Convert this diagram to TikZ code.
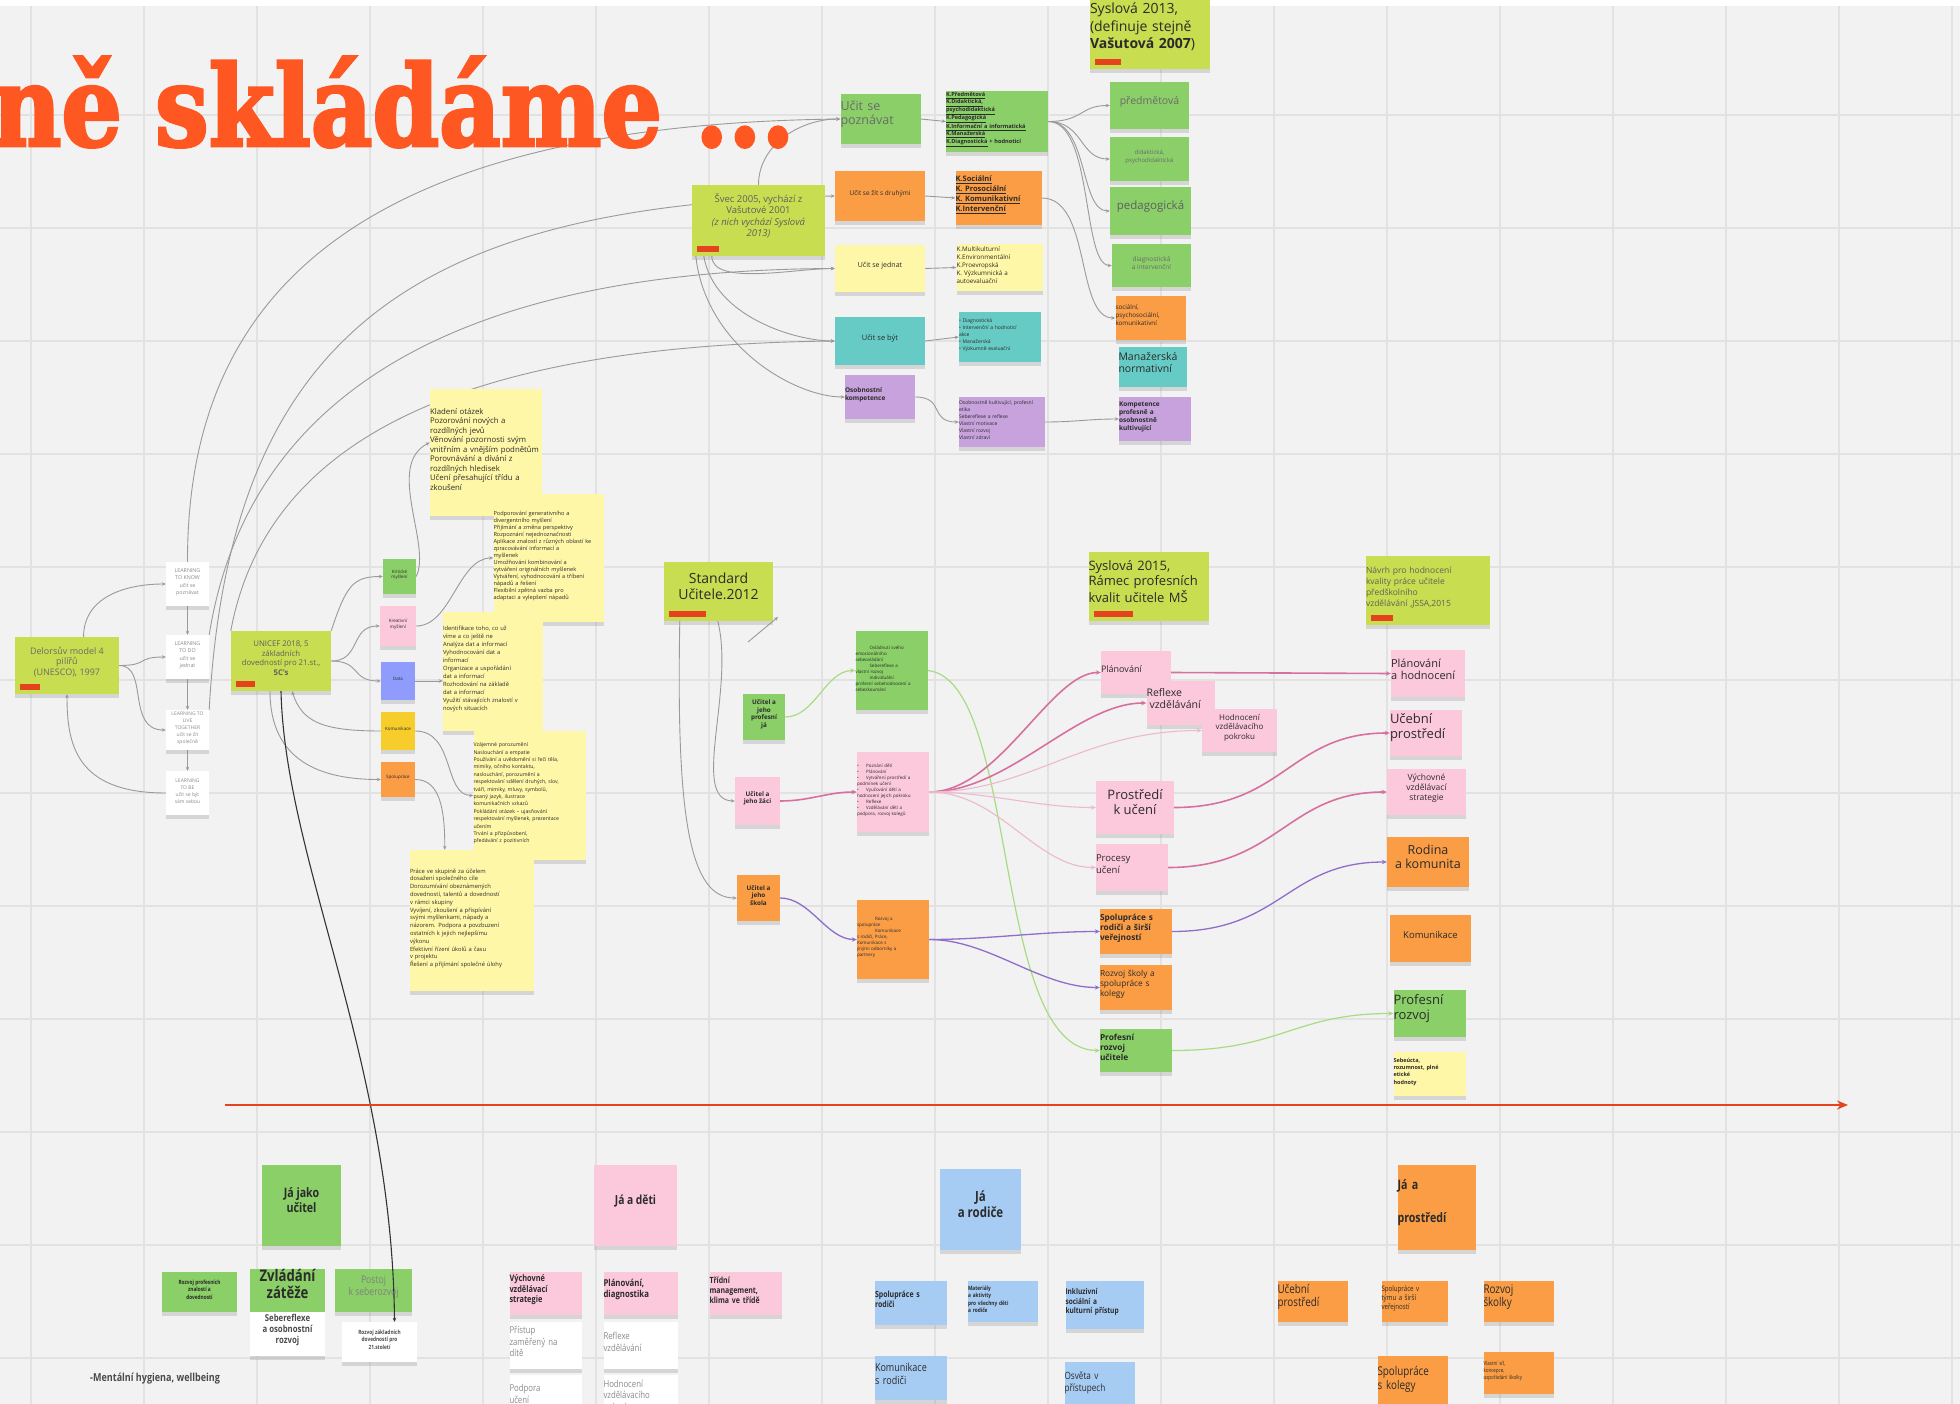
\documentclass[tikz,border=0pt]{standalone}
\usepackage{fontspec}
\setmainfont{Open Sans}
\newfontfamily\condfont{Open Sans}[FakeStretch=0.82]
\newfontfamily\titlefont{DejaVu Serif}[FakeStretch=0.85, BoldFeatures={FakeBold=2.5}]
\usetikzlibrary{fit,shadows,arrows.meta,backgrounds}
\definecolor{boardbg}{HTML}{F2F2F2}
\definecolor{gridline}{HTML}{E2E2E2}
\definecolor{limec}{HTML}{C8DD4F}
\definecolor{greenc}{HTML}{8ACF68}
\definecolor{orangec}{HTML}{FB9D45}
\definecolor{pinkc}{HTML}{FCC8DB}
\definecolor{tealc}{HTML}{66CBC4}
\definecolor{purplec}{HTML}{C8A2DD}
\definecolor{yellowc}{HTML}{FFF7A8}
\definecolor{bluec}{HTML}{A7CCF4}
\definecolor{violetc}{HTML}{8F9CFB}
\definecolor{goldc}{HTML}{F6CD2A}
\definecolor{tagred}{HTML}{E5431D}
\definecolor{titlered}{HTML}{FF5722}
\definecolor{inkc}{HTML}{2B2B2B}
\definecolor{greyink}{HTML}{8A8A8A}
\definecolor{linegray}{HTML}{9A9A9A}
\definecolor{pinkline}{HTML}{D8709F}
\definecolor{softpink}{HTML}{EDB9CD}
\definecolor{purpline}{HTML}{8E6DCB}
\definecolor{greenline}{HTML}{A9DB82}
\newcommand{\fs}[2]{\fontsize{#1}{#2}\selectfont}
\begin{document}
\begin{tikzpicture}[x=1pt, y=-1pt,
	note/.style={inner sep=0pt, text=inkc, align=center, drop shadow={opacity=0.25, shadow xshift=0pt, shadow yshift=-4pt}},
	lime/.style={note, fill=limec, path picture={\fill[tagred] ([xshift=5pt,yshift=4pt]path picture bounding box.south west) rectangle ++(#1,6pt);}},
	lime/.default=22pt,
	gnote/.style={note, fill=greenc},
	onote/.style={note, fill=orangec},
	pnote/.style={note, fill=pinkc},
	tnote/.style={note, fill=tealc},
	vnote/.style={note, fill=purplec},
	ynote/.style={note, fill=yellowc},
	bnote/.style={note, fill=bluec},
	wnote/.style={note, fill=white, text=greyink},
	conn/.style={draw=linegray, line width=0.9pt, -{Stealth[length=4pt, width=3.5pt]}},
	pconn/.style={draw=pinkline, line width=1.6pt, -{Stealth[length=5pt, width=4.5pt]}},
	spconn/.style={pconn, draw=softpink, line width=1.1pt},
	vconn/.style={pconn, draw=purpline, line width=1.3pt},
	gconn/.style={pconn, draw=greenline, line width=1.2pt},
	blackconn/.style={draw=black!80, line width=1.1pt, -{Stealth[length=4pt, width=3.5pt]}},
	timeline/.style={draw=tagred, line width=2.4pt, -{Stealth[length=11pt, width=9pt]}}]
	\useasboundingbox (0,0) rectangle (1960,1404);
	\clip (0,0) rectangle (1960,1404);
	%
	%title
	\node[anchor=base west, inner sep=0pt, text=titlered, font=\titlefont\bfseries\fs{112}{112}] (title) at (-8,146) {ně skládáme ...};
	%
	%top: Svec 2005 and Syslova 2013
	\node[lime=26pt, fit={(1085,-4) (1215,69)}, text width=120pt, align=left, font=\fs{14}{17.5}] (syslova13) {Syslová 2013,\\(definuje stejně\\\textbf{Vašutová 2007})};
	\node[lime, fit={(692,185) (825,256)}, font=\fs{9.5}{11.5}, text=inkc!75] (svec) {Švec 2005, vychází z\\Vašutové 2001\\\textit{(z nich vychází Syslová}\\\textit{2013)}};
	\node[gnote, fit={(836,94) (925,144)}, text width=80pt, align=left, font=\fs{12.5}{14.5}, text=inkc!70] (poznavat) {Učit se\\poznávat};
	\node[onote, fit={(835,171) (925,221)}, font=\fs{6.5}{8}] (zit) {Učit se žít s druhými};
	\node[ynote, fit={(835,245) (925,292)}, font=\fs{7}{8}] (jednat) {Učit se jednat};
	\node[tnote, fit={(835,317) (925,365)}, font=\fs{7.5}{9}] (byt) {Učit se být};
	\node[vnote, fit={(841,375) (919,419)}, text width=70pt, align=left, font=\bfseries\fs{6.5}{8}] (osob) {Osobnostní\\kompetence};
	%lists
	\node[gnote, fit={(942,91) (1052,152)}, text width=102pt, align=left, font=\bfseries\fs{5.6}{7.4}] (kpozn) {\underline{K.Předmětová}\\\underline{K.Didaktická,}\\\underline{psychodidaktická}\\\underline{K.Pedagogická}\\\underline{K.Informační a informatická}\\\underline{K.Manažerská}\\\underline{K.Diagnostická} + hodnoticí};
	\node[onote, fit={(952,171) (1045,225)}, text width=86pt, align=left, font=\bfseries\fs{7.5}{10}] (ksoc) {\underline{K.Sociální}\\\underline{K. Prosociální}\\\underline{K. Komunikativní}\\\underline{K.Intervenční}};
	\node[ynote, fit={(954,244) (1045,291)}, text width=86pt, align=left, font=\fs{6.3}{8.2}] (kjed) {K.Multikulturní\\K.Environmentální\\K.Proevropská\\K. Výzkumnická a\\autoevaluační};
	\node[tnote, fit={(956,312) (1044,362)}, text width=82pt, align=left, font=\fs{5}{7}] (kbyt) {• Diagnostická\\• Intervenční a hodnoticí\\akce\\• Manažerská\\• Výzkumně evaluační};
	\node[vnote, fit={(956,397) (1048,447)}, text width=86pt, align=left, font=\fs{5}{7}] (kosob) {Osobnostně kultivující, profesní\\etika\\Sebereflexe a reflexe\\Vlastní motivace\\Vlastní rozvoj\\Vlastní zdraví};
	%right column
	\node[gnote, fit={(1110,82) (1189,129)}, font=\fs{10.5}{12}, text=inkc!70] (predmet) {předmětová};
	\node[gnote, fit={(1110,137) (1189,181)}, font=\fs{6}{7.5}, text=inkc!70] (didakt) {didaktická,\\psychodidaktická};
	\node[gnote, fit={(1110,187) (1191,235)}, font=\fs{11.5}{13}, text=inkc!75] (pedag) {pedagogická};
	\node[gnote, fit={(1112,244) (1191,287)}, font=\fs{6.5}{8}, text=inkc!70] (diagn) {diagnostická\\a intervenční};
	\node[onote, fit={(1112,296) (1189,340)}, text width=70pt, align=left, font=\fs{6.3}{8}] (social) {sociální,\\psychosociální,\\komunikativní};
	\node[tnote, fit={(1116,347) (1189,387)}, text width=68pt, align=left, font=\fs{10.5}{12}] (manaz) {Manažerská\\normativní};
	\node[vnote, fit={(1116,397) (1194,441)}, text width=72pt, align=left, font=\bfseries\fs{6.5}{8}] (kultiv) {Kompetence\\profesně a\\osobnostně\\kultivující};
	%
	%left: Delors and UNICEF
	\node[lime=20pt, fit={(15,637) (119,694)}, font=\fs{9}{10.5}, text=inkc!70] (delors) {Delorsův model 4\\pilířů\\(UNESCO), 1997};
	\node[wnote, fit={(166,562) (209,606)}, font=\fs{5.3}{7.5}] (know) {LEARNING\\TO KNOW\\učit se\\poznávat};
	\node[wnote, fit={(166,635) (209,679)}, font=\fs{5.3}{7.5}] (ltd) {LEARNING\\TO DO\\učit se\\jednat};
	\node[wnote, fit={(166,710) (209,750)}, font=\fs{5}{6.8}] (live) {LEARNING TO\\LIVE\\TOGETHER\\učit se žít\\společně};
	\node[wnote, fit={(166,771) (209,815)}, font=\fs{5}{6.8}] (be) {LEARNING\\TO BE\\učit se být\\sám sebou};
	\node[lime=19pt, fit={(231,631) (331,691)}, font=\fs{7.8}{9.5}, text=inkc!75] (unicef) {UNICEF 2018, 5\\základních\\dovedností pro 21.st.,\\\textbf{5C's}};
	\node[gnote, fit={(383,559) (416,594)}, font=\fs{4.5}{5.5}] (sqgreen) {Kritické\\myšlení};
	\node[pnote, fit={(380,606) (416,646)}, font=\fs{4.5}{5.5}] (sqpink) {Kreativní\\myšlení};
	\node[note, fill=violetc, fit={(381,662) (415,700)}, font=\fs{4.5}{5.5}] (sqblue) {Data};
	\node[note, fill=goldc, fit={(381,712) (415,750)}, font=\fs{4.5}{5.5}] (sqgold) {Komunikace};
	\node[onote, fit={(381,762) (415,797)}, font=\fs{4.5}{5.5}] (sqorange) {Spolupráce};
	%yellow notes
	\node[ynote, fit={(422,389) (550,516)}, text width=112pt, align=left, font=\fs{7.8}{9.5}] (otazky) {Kladení otázek\\Pozorování nových a\\rozdílných jevů\\Věnování pozornosti svým\\vnitřním a vnějším podnětům\\Porovnávání a dívání z\\rozdílných hledisek\\Učení přesahující třídu a\\zkoušení};
	\node[ynote, fit={(485,494) (612,622)}, text width=110pt, align=left, font=\fs{5.6}{7}] (tvorivost) {Podporování generativního a\\divergentního myšlení\\Přijímání a změna perspektivy\\Rozpoznání nejednoznačnosti\\Aplikace znalostí z různých oblastí ke\\zpracovávání informací a\\myšlenek\\Umožňování kombinování a\\vytváření originálních myšlenek\\Vytváření, vyhodnocování a tříbení\\nápadů a řešení\\Flexibilní zpětná vazba pro\\adaptaci a vylepšení nápadů};
	\node[ynote, fit={(435,612) (551,731)}, text width=100pt, align=left, font=\fs{5.8}{8}] (info) {Identifikace toho, co už\\víme a co ještě ne\\Analýza dat a informací\\Vyhodnocování dat a\\informací\\Organizace a uspořádání\\dat a informací\\Rozhodování na základě\\dat a informací\\Využití stávajících znalostí v\\nových situacích};
	\node[ynote, fit={(465,731) (594,860)}, text width=112pt, align=left, font=\fs{5.2}{7.4}] (komun) {Vzájemné porozumění\\Naslouchání a empatie\\Používání a uvědomění si řeči těla,\\mimiky, očního kontaktu,\\naslouchání, porozumění a\\respektování sdělení druhých, slov,\\tváří, mimiky, mluvy, symbolů,\\psaný jazyk, ilustrace\\komunikačních vzkazů\\Pokládání otázek -- ujasňování\\respektování myšlenek, prezentace\\učením\\Trvání a přizpůsobení,\\předávání z pozitivních};
	\node[ynote, fit={(400,850) (544,991)}, text width=124pt, align=left, font=\fs{5.8}{7.8}] (spoluprace) {Práce ve skupině za účelem\\dosažení společného cíle\\Dorozumívání obeznámených\\dovedností, talentů a dovedností\\v rámci skupiny\\Vyvíjení, zkoušení a přispívání\\svými myšlenkami, nápady a\\názorem. Podpora a povzbuzení\\ostatních k jejich nejlepšímu\\výkonu\\Efektivní řízení úkolů a času\\v projektu\\Řešení a přijímání společné úlohy};
	%
	%center: Standard 2012
	\node[lime=37pt, fit={(664,562) (773,621)}, font=\fs{14}{16}] (standard) {Standard\\Učitele.2012};
	\node[gnote, fit={(743,694) (785,740)}, font=\bfseries\fs{6.3}{7.5}] (profja) {Učitel a\\jeho\\profesní\\já};
	\node[gnote, fit={(852,631) (931,710)}, text width=72pt, align=left, font=\fs{4.5}{6}] (listja) {\hspace*{14pt}Ovládnutí svého\\emocionálního\\sebeovládání\\\hspace*{14pt}Sebereflexe a\\vlastní rozvoj\\\hspace*{14pt}Individuální\\profesní sebehodnocení a\\sebezkoumání};
	\node[pnote, fit={(735,777) (780,825)}, font=\bfseries\fs{6.3}{7.5}] (zaci) {Učitel a\\jeho žáci};
	\node[pnote, fit={(854,752) (932,832)}, text width=72pt, align=left, font=\fs{4.5}{6}] (listzaci) {• \hspace*{6pt}Poznání dětí\\• \hspace*{6pt}Plánování\\• \hspace*{6pt}Vytváření prostředí a\\podmínek učení\\• \hspace*{6pt}Vyučování dětí a\\hodnocení jejich pokroku\\• \hspace*{6pt}Reflexe\\• \hspace*{6pt}Vzdělávání dětí a\\podpora, rozvoj kolegů};
	\node[onote, fit={(737,875) (780,921)}, font=\bfseries\fs{6.3}{7.5}] (skola) {Učitel a\\jeho\\škola};
	\node[onote, fit={(854,900) (932,979)}, text width=72pt, align=left, font=\fs{4.5}{6}] (listskola) {\hspace*{18pt}Rozvoj a\\spolupráce\\\hspace*{18pt}Komunikace\\s rodiči, Práce,\\Komunikace s\\jinými odborníky a\\partnery};
	%
	%right: Syslova 2015
	\node[lime=39pt, fit={(1085,552) (1212,621)}, text width=120pt, align=left, font=\fs{13}{15}] (syslova15) {Syslová 2015,\\Rámec profesních\\kvalit učitele MŠ};
	\node[pnote, fit={(1097,651) (1175,694)}, text width=70pt, align=left, font=\fs{9}{10}] (planovani) {Plánování};
	\node[pnote, fit={(1144,681) (1217,725)}, text width=68pt, align=left, font=\fs{10.5}{12}] (reflexe) {Reflexe\\\hspace*{3pt}vzdělávání};
	\node[pnote, fit={(1202,709) (1277,752)}, font=\fs{8}{9.5}] (hodnoceni) {Hodnocení\\vzdělávacího\\pokroku};
	\node[pnote, fit={(1096,781) (1174,834)}, font=\fs{13}{15}] (prostredi) {Prostředí\\k učení};
	\node[pnote, fit={(1092,844) (1172,891)}, text width=72pt, align=left, font=\fs{9.5}{12}] (procesy) {Procesy\\učení};
	\node[onote, fit={(1097,909) (1175,954)}, text width=72pt, align=left, font=\bfseries\fs{8.3}{10}] (sprodice) {Spolupráce s\\rodiči a širší\\veřejností};
	\node[onote, fit={(1097,965) (1175,1010)}, text width=72pt, align=left, font=\fs{8.3}{10}] (rozvojskoly) {Rozvoj školy a\\spolupráce s\\kolegy};
	\node[gnote, fit={(1097,1029) (1175,1072)}, text width=72pt, align=left, font=\bfseries\fs{8.3}{10}] (profrozvoj) {Profesní\\rozvoj\\učitele};
	%JSSA 2015
	\node[lime, fit={(1362,556) (1494,625)}, text width=124pt, align=left, font=\fs{8.5}{11}, text=inkc!75] (navrh) {Návrh pro hodnocení\\kvality práce učitele\\předškolního\\vzdělávání ,JSSA,2015};
	\node[pnote, fit={(1387,650) (1469,697)}, text width=74pt, align=left, font=\fs{11}{12.5}] (planhod) {Plánování\\a hodnocení};
	\node[pnote, fit={(1387,710) (1465,756)}, text width=72pt, align=left, font=\fs{13}{15}] (ucebni) {Učební\\prostředí};
	\node[pnote, fit={(1387,769) (1466,815)}, font=\fs{8.5}{10}] (vychovne) {Výchovné\\vzdělávací\\strategie};
	\node[onote, fit={(1387,837) (1469,887)}, font=\fs{12.5}{14}] (rodina) {Rodina\\a komunita};
	\node[onote, fit={(1390,915) (1471,962)}, font=\fs{9.5}{11}] (komunikace) {Komunikace};
	\node[gnote, fit={(1390,990) (1469,1037)}, text width=72pt, align=left, font=\fs{13}{15}] (profesni) {Profesní\\rozvoj};
	\node[ynote, fit={(1390,1052) (1469,1096)}, text width=72pt, align=left, font=\bfseries\fs{5.5}{7.2}] (hodnoty) {Sebeúcta,\\rozumnost, plné\\etické\\hodnoty};
	%
	%bottom: Ja jako ucitel
	\node[gnote, fit={(262,1165) (341,1246)}, font=\condfont\bfseries\fs{13}{15}] (jajako) {Já jako\\učitel};
	\node[gnote, fit={(162,1272) (237,1312)}, font=\condfont\bfseries\fs{5.8}{7.2}] (rozvprof) {Rozvoj profesních\\znalostí a\\dovedností};
	\node[gnote, fit={(250,1269) (325,1312)}, font=\condfont\bfseries\fs{16}{17}] (zvladani) {Zvládání\\zátěže};
	\node[gnote, fit={(335,1269) (412,1312)}, font=\condfont\fs{10.5}{12}, text=inkc!60] (postoj) {Postoj\\k seberozvoj};
	\node[wnote, fit={(250,1312) (325,1356)}, font=\condfont\bfseries\fs{9.5}{11}, text=inkc!85] (sebereflexe) {Sebereflexe\\a osobnostní\\rozvoj};
	\node[wnote, fit={(342,1322) (417,1362)}, font=\condfont\bfseries\fs{5.8}{7.5}, text=inkc!85] (dovednosti) {Rozvoj základních\\dovedností pro\\21.století};
	\node[anchor=west, inner sep=0pt, text=inkc!85, font=\condfont\bfseries\fs{11}{12}] (mental) at (90,1379) {-Mentální hygiena, wellbeing};
	%Ja a deti
	\node[pnote, fit={(594,1165) (677,1246)}, font=\condfont\bfseries\fs{12.5}{14}] (jadeti) {Já a děti};
	\node[pnote, fit={(506,1272) (585,1315)}, text width=72pt, align=left, font=\condfont\bfseries\fs{9}{10.5}] (vychstrat) {Výchovné\\vzdělávací\\strategie};
	\node[pnote, fit={(600,1272) (681,1315)}, text width=74pt, align=left, font=\condfont\bfseries\fs{9.5}{11}] (plandiag) {Plánování,\\diagnostika};
	\node[pnote, fit={(706,1272) (785,1315)}, text width=72pt, align=left, font=\condfont\bfseries\fs{8.5}{10}] (tridni) {Třídní\\management,\\klima ve třídě};
	\node[wnote, fit={(506,1322) (585,1369)}, text width=72pt, align=left, font=\condfont\fs{9.5}{11.5}] (pristup) {Přístup\\zaměřený na\\dítě};
	\node[wnote, fit={(600,1322) (681,1369)}, text width=74pt, align=left, font=\condfont\fs{9.5}{11.5}] (reflvzd) {Reflexe\\vzdělávání};
	\node[wnote, fit={(506,1375) (585,1420)}, text width=72pt, align=left, font=\condfont\fs{9.5}{11.5}] (podpora) {Podpora\\učení};
	\node[wnote, fit={(600,1375) (681,1425)}, text width=74pt, align=left, font=\condfont\fs{9.5}{11.5}] (hodnvzd) {Hodnocení\\vzdělávacího\\pokroku};
	%Ja a rodice
	\node[bnote, fit={(940,1169) (1021,1250)}, font=\condfont\bfseries\fs{14}{16}] (jarodice) {Já\\a rodiče};
	\node[bnote, fit={(872,1281) (950,1325)}, text width=72pt, align=left, font=\condfont\bfseries\fs{8.5}{10}] (sprod) {Spolupráce s\\rodiči};
	\node[bnote, fit={(965,1281) (1041,1322)}, text width=70pt, align=left, font=\condfont\bfseries\fs{5.8}{7.2}] (materialy) {Materiály\\a aktivity\\pro všechny děti\\a rodiče};
	\node[bnote, fit={(1062,1281) (1147,1329)}, text width=78pt, align=left, font=\condfont\bfseries\fs{8}{9.8}] (inkluzivni) {Inkluzivní\\sociální a\\kulturní přístup};
	\node[bnote, fit={(872,1356) (950,1400)}, text width=72pt, align=left, font=\condfont\fs{11}{13}] (komrod) {Komunikace\\s rodiči};
	\node[bnote, fit={(1062,1362) (1137,1412)}, text width=70pt, align=left, font=\condfont\fs{10}{12}] (osveta) {Osvěta v\\přístupech};
	%Ja a prostredi
	\node[onote, fit={(1394,1165) (1479,1250)}, text width=78pt, align=left, font=\condfont\bfseries\fs{13}{15}] (japrostr) {Já a\\[18pt]prostředí};
	\node[onote, fit={(1275,1281) (1350,1322)}, text width=70pt, align=left, font=\condfont\fs{12}{13.5}] (ucprostr) {Učební\\prostředí};
	\node[onote, fit={(1379,1281) (1450,1322)}, text width=66pt, align=left, font=\condfont\fs{7.5}{9}] (sptym) {Spolupráce v\\týmu a širší\\veřejností};
	\node[onote, fit={(1481,1281) (1556,1322)}, text width=70pt, align=left, font=\condfont\fs{12}{13.5}] (rozvskolky) {Rozvoj\\školky};
	\node[onote, fit={(1375,1356) (1450,1412)}, text width=70pt, align=left, font=\condfont\fs{12}{13.5}] (spkolegy) {Spolupráce\\s kolegy};
	\node[onote, fit={(1481,1352) (1556,1394)}, text width=70pt, align=left, font=\condfont\fs{5.5}{7}] (vnitrni) {Vlastní síť,\\koncepce,\\uspořádání školky};
	%
	%long line to the bottom
	\draw[blackconn] (unicef.south) .. controls (285,860) and (392,1060) .. ([xshift=15pt]dovednosti.north);
	%timeline
	\coordinate (tstart) at (225,1105);
	\coordinate (tend) at (1848,1105);
	\draw[timeline] (tstart) -- (tend);
	%
	\begin{scope}[on background layer]
		%board
		\fill[boardbg] (0,0) rectangle (1960,1404);
		\fill[white] (0,0) rectangle (1960,6);
		\foreach \gx in {31,144,...,1952} \draw[gridline, line width=1.2pt] (\gx,6) -- (\gx,1404);
		\foreach \gy in {115,228,...,1360} \draw[gridline, line width=1.2pt] (0,\gy) -- (1960,\gy);
		%
		%Delors
		\draw[conn] (delors.60) .. controls +(0,-40) and +(-40,0) .. (know.west);
		\draw[conn] (delors.east) .. controls +(30,0) and +(-30,0) .. (ltd.west);
		\draw[conn] (delors.east) .. controls +(30,0) and +(-40,0) .. (live.west);
		\draw[conn] (be.west) .. controls +(-90,0) and +(0,50) .. (delors.south);
		\draw[conn] (know.south) -- (ltd.north);
		\draw[conn] (ltd.south) -- (live.north);
		\draw[conn] (live.south) -- (be.north);
		%learning -> top
		\draw[conn] (know.north) .. controls (187,300) and (350,125) .. (poznavat.west);
		\draw[conn] (live.north east) .. controls (230,330) and (420,205) .. (zit.west);
		\draw[conn] (ltd.north east) .. controls (250,380) and (480,270) .. (jednat.west);
		\draw[conn] (unicef.north west) .. controls (270,420) and (500,345) .. (byt.west);
		%Svec
		\draw[conn] (svec.north) .. controls +(0,-40) and +(-40,0) .. (poznavat.west);
		\draw[conn] ([xshift=20pt]svec.south west) .. controls +(0,30) and +(-40,0) .. (jednat.west);
		\draw[conn] ([xshift=12pt]svec.south west) .. controls +(10,60) and +(-40,0) .. (byt.west);
		\draw[conn] ([xshift=4pt]svec.south west) .. controls +(10,90) and +(-50,0) .. (osob.west);
		%lists
		\draw[conn] (poznavat.east) -- (kpozn.west);
		\draw[conn] (zit.east) -- (ksoc.west);
		\draw[conn] (jednat.east) -- (kjed.west);
		\draw[conn] (byt.east) -- (kbyt.west);
		\draw[conn] (osob.east) .. controls +(30,0) and +(-30,0) .. (kosob.west);
		\draw[conn] (kpozn.east) .. controls +(35,0) and +(-30,0) .. (predmet.west);
		\draw[conn] (kpozn.east) .. controls +(35,0) and +(-30,0) .. (didakt.west);
		\draw[conn] (kpozn.east) .. controls +(40,0) and +(-30,0) .. (pedag.west);
		\draw[conn] (kpozn.east) .. controls +(45,0) and +(-30,0) .. (diagn.west);
		\draw[conn] (ksoc.east) .. controls +(50,0) and +(-40,0) .. (social.west);
		\draw[conn] (kosob.east) .. controls +(30,0) and +(-30,0) .. (kultiv.west);
		%UNICEF
		\draw[conn] (unicef.north east) .. controls +(15,-45) and +(-30,0) .. (sqgreen.west);
		\draw[conn] (unicef.east) .. controls +(30,0) and +(-30,0) .. (sqpink.west);
		\draw[conn] (unicef.east) .. controls +(30,0) and +(-30,0) .. (sqblue.west);
		\draw[conn] (sqgold.west) .. controls +(-60,0) and +(10,30) .. (unicef.290);
		\draw[conn] (unicef.250) .. controls +(0,70) and +(-60,0) .. (sqorange.west);
		\draw[conn] (sqgreen.east) .. controls (432,545) and (385,465) .. ([yshift=10pt]otazky.west);
		\draw[conn] (sqpink.east) .. controls +(35,0) and +(-35,0) .. (tvorivost.west);
		\draw[conn] (sqblue.east) -- (sqblue.east -| info.west);
		\draw[conn] (sqgold.east) .. controls +(40,0) and +(-30,0) .. (komun.west);
		\draw[conn] (sqorange.east) .. controls +(25,0) and +(0,-40) .. ([xshift=35pt]spoluprace.north west);
		%Standard
		\draw[conn] ([xshift=16pt]standard.south west) .. controls (676,820) and (690,898) .. (skola.west);
		\draw[conn] ([xshift=54pt]standard.south west) .. controls (735,690) and (690,800) .. (zaci.west);
		\coordinate (stubA) at (748,642);
		\coordinate (stubB) at (778,617);
		\draw[conn] (stubA) -- (stubB);
		\draw[gconn] (profja.east) .. controls +(30,0) and +(-30,0) .. (listja.west);
		\draw[pconn] (zaci.east) .. controls +(30,0) and +(-30,0) .. (listzaci.west);
		\draw[vconn] (skola.east) .. controls +(30,0) and +(-30,0) .. (listskola.west);
		\draw[gconn] (listja.east) .. controls (1020,680) and (990,1050) .. (profrozvoj.west);
		\draw[pconn] (listzaci.east) .. controls +(70,0) and +(-50,0) .. (planovani.west);
		\draw[pconn] (listzaci.east) .. controls +(80,0) and +(-70,0) .. (reflexe.west);
		\draw[spconn] (listzaci.east) .. controls +(100,0) and +(-120,0) .. (hodnoceni.west);
		\draw[spconn] (listzaci.east) .. controls +(60,0) and +(-60,0) .. (prostredi.west);
		\draw[spconn] (listzaci.east) .. controls +(70,0) and +(-60,0) .. (procesy.west);
		\draw[vconn] (listskola.east) .. controls +(60,0) and +(-60,0) .. (sprodice.west);
		\draw[vconn] (listskola.east) .. controls +(60,0) and +(-60,0) .. (rozvojskoly.west);
		%Syslova 2015 -> JSSA 2015
		\draw[pconn] (planovani.east) -- (planhod.west);
		\draw[pconn] (prostredi.east) .. controls +(110,0) and +(-100,0) .. (ucebni.west);
		\draw[pconn] (procesy.east) .. controls +(110,0) and +(-100,0) .. (vychovne.west);
		\draw[vconn] (sprodice.east) .. controls +(110,0) and +(-100,0) .. (rodina.west);
		\draw[gconn] (profrozvoj.east) .. controls +(110,0) and +(-100,0) .. (profesni.west);
	\end{scope}
\end{tikzpicture}
\end{document}
